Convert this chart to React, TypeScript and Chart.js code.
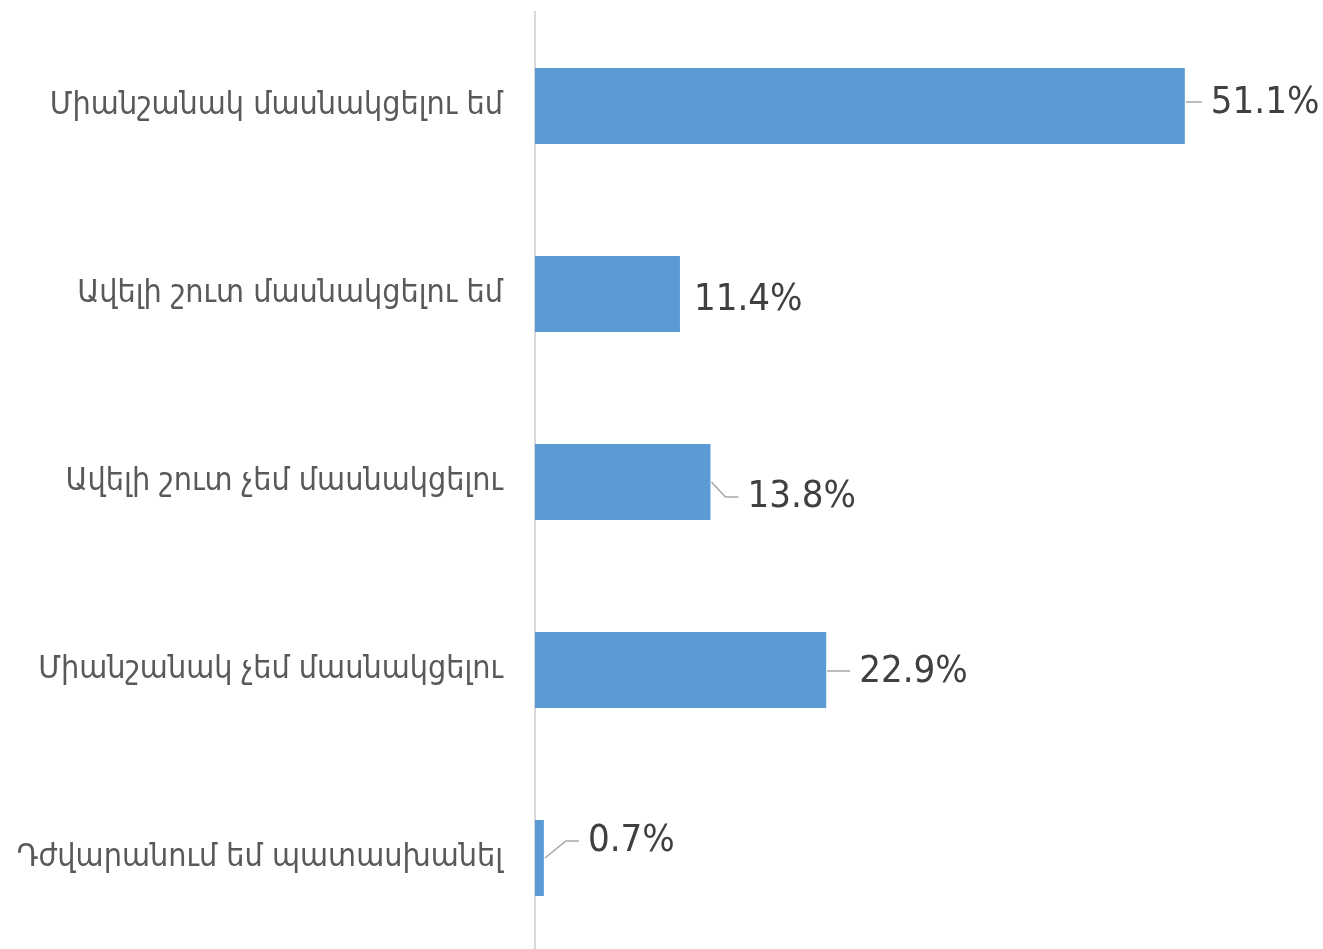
import React, { useEffect, useRef } from "react";
import { Chart, registerables } from "chart.js";

Chart.register(...registerables);

const categories = [
  "Միանշանակ մասնակցելու եմ",
  "Ավելի շուտ մասնակցելու եմ",
  "Ավելի շուտ չեմ մասնակցելու",
  "Միանշանակ չեմ մասնակցելու",
  "Դժվարանում եմ պատասխանել",
];
const values = [51.1, 11.4, 13.8, 22.9, 0.7];
const valueLabels = ["51.1%", "11.4%", "13.8%", "22.9%", "0.7%"];
// label placement offsets (style only): relative to bar end / bar centre
const labelDx = [26, 14, 37, 33, 44];
const labelDy = [-3, 6, 15, 2, -17];
const showLeader = [true, false, true, true, true];

const LABEL_FONT = "'DejaVu Sans Condensed', 'DejaVu Sans', sans-serif";
const CAT_FONT = "'DejaVu Sans Condensed', 'DejaVu Sans', sans-serif";

const labelPlugin = {
  id: "valueLabels",
  afterDatasetsDraw(chart: any) {
    const ctx = chart.ctx;
    const meta = chart.getDatasetMeta(0);
    ctx.save();
    ctx.font = `38px ${LABEL_FONT}`;
    ctx.textBaseline = "middle";
    ctx.textAlign = "left";
    meta.data.forEach((bar: any, i: number) => {
      const xEnd = bar.x;
      const yc = bar.y;
      const lx = xEnd + labelDx[i];
      const ly = yc + labelDy[i];
      if (showLeader[i]) {
        ctx.strokeStyle = "#a6a6a6";
        ctx.lineWidth = 1.5;
        ctx.beginPath();
        if (Math.abs(labelDy[i]) <= 3) {
          ctx.moveTo(xEnd + 1, ly - 1);
          ctx.lineTo(lx - 9, ly - 1);
        } else {
          const elbowX = Math.max(xEnd + 4, lx - 22);
          ctx.moveTo(xEnd + 1, yc);
          ctx.lineTo(elbowX, ly);
          ctx.lineTo(lx - 9, ly);
        }
        ctx.stroke();
      }
      ctx.fillStyle = "#404040";
      ctx.fillText(valueLabels[i], lx, ly);
    });
    ctx.restore();
  },
};

export default function App() {
  const ref = useRef<HTMLCanvasElement>(null);
  useEffect(() => {
    if (!ref.current) return;
    const chart = new Chart(ref.current, {
      type: "bar",
      data: {
        labels: categories,
        datasets: [
          {
            data: values,
            backgroundColor: "#5B9BD5",
            borderWidth: 0,
            categoryPercentage: 1,
            barPercentage: 0.404,
          },
        ],
      },
      options: {
        indexAxis: "y",
        animation: false,
        responsive: false,
        maintainAspectRatio: false,
        layout: { padding: { left: 0, right: 25, top: 12, bottom: 0 } },
        plugins: {
          legend: { display: false },
          tooltip: { enabled: false },
        },
        scales: {
          x: {
            display: false,
            min: 0,
            max: 60,
          },
          y: {
            grid: { display: false, drawTicks: false },
            border: { display: true, color: "#d9d9d9", width: 2 },
            ticks: {
              padding: 32,
              color: "#595959",
              font: { family: CAT_FONT, size: 32 },
            },
            afterFit(scale: any) {
              scale.width = 535;
              scale.paddingTop = 0;
              scale.paddingBottom = 0;
            },
          },
        },
      },
      plugins: [labelPlugin],
    });
    return () => chart.destroy();
  }, []);
  return (
    <div
      style={{
        position: "fixed",
        left: 0,
        top: 0,
        width: 1323,
        height: 949,
        overflow: "hidden",
        background: "#fff",
      }}
    >
      <canvas ref={ref} width={1323} height={952} style={{ display: "block" }} />
    </div>
  );
}
